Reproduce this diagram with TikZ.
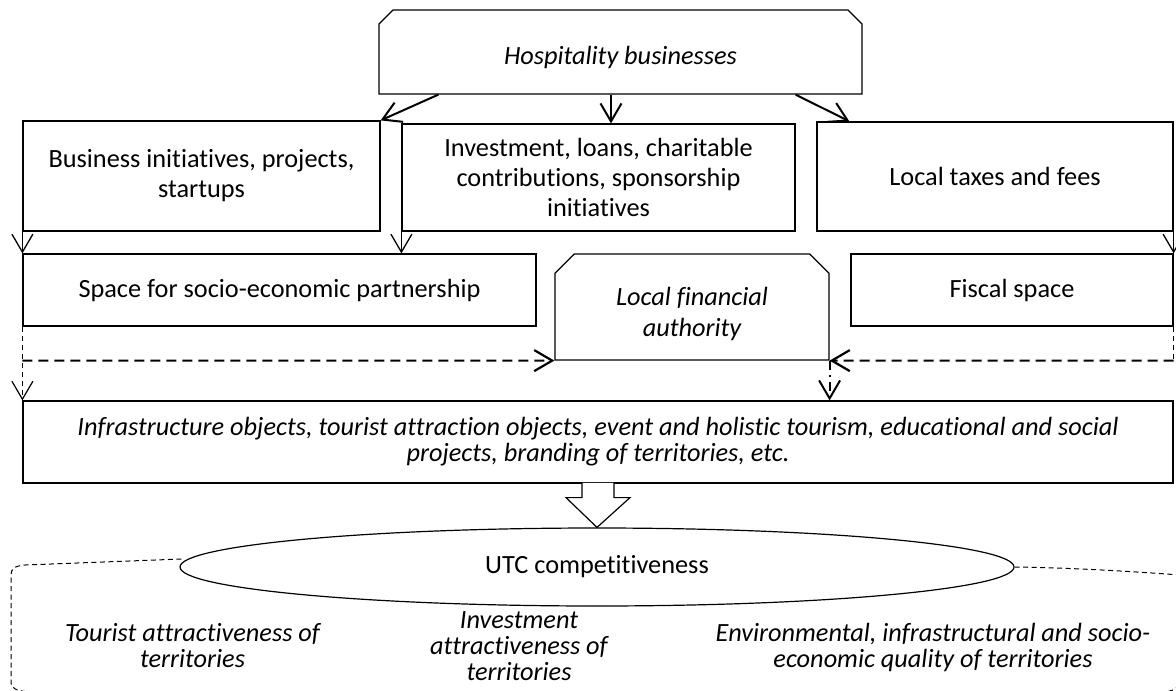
\documentclass[tikz,border=0pt]{standalone}
\usepackage{fontspec}
\setmainfont{Carlito}[Ligatures=CommonOff]
\usetikzlibrary{arrows.meta,calc,shapes.geometric,shapes.misc}

\begin{document}
\begin{tikzpicture}[x=1pt,y=-1pt,
    every node/.style={font=\fontsize{26.3}{30}\selectfont, align=center, inner sep=0pt},
    box/.style={draw, line width=1.2pt, rectangle},
    cbox/.style={draw, line width=1.2pt, chamfered rectangle,
      chamfered rectangle corners={north west,north east}},
    barb/.style={-{Straight Barb[length=18pt,width=21pt]}},
    flow/.style={barb, line width=2pt},
    drop/.style={barb, line width=1.3pt},
    link/.style={barb, line width=2.2pt, dash pattern=on 10pt off 6pt},
    feed/.style={barb, line width=1.2pt, dash pattern=on 5pt off 4pt},
    rim/.style={line width=1pt, dash pattern=on 5pt off 3.5pt},
    note/.style={font=\fontsize{26.3}{26}\selectfont\itshape}]
  \useasboundingbox (0,0) rectangle (1176,691);

  % top level
  \node[cbox, minimum width=483, minimum height=84, chamfered rectangle xsep=7,
    chamfered rectangle ysep=7, text height=30pt] (hosp) at (620.5,52) {\itshape Hospitality businesses};

  % second row
  \node[box, minimum width=357, minimum height=110] (biz) at (201.5,176) {Business initiatives, projects,\\startups};
  \node[box, minimum width=393, minimum height=107] (invest) at (598.5,177.5) {Investment, loans, charitable\\contributions, sponsorship\\initiatives};
  \node[box, minimum width=356, minimum height=109] (taxes) at (995,176.5) {Local taxes and fees};

  % third row
  \node[box, minimum width=513, minimum height=72] (space) at (279.5,290) {Space for socio-economic partnership};
  \node[cbox, minimum width=274, minimum height=106, chamfered rectangle xsep=10,
    chamfered rectangle ysep=10] (lfa) at (692,307) {\phantom{Local financial}};
  \node[font=\fontsize{26.3}{31}\selectfont\itshape] (lfatext) at ($(lfa.center)+(0,7)$) {Local financial\\authority};
  \node[box, minimum width=322, minimum height=72] (fiscal) at (1012,290) {Fiscal space};

  \node[box, minimum width=1150, minimum height=82, font=\fontsize{26.3}{26}\selectfont\itshape] (infra) at (598,442)
    {Infrastructure objects, tourist attraction objects, event and holistic tourism, educational and social\\projects, branding of territories, etc.};

  \node[draw, line width=1.2pt, ellipse, fill=white, minimum width=834, minimum height=78] (utc) at (597,567) {UTC competitiveness};

  % dashed outline round the lower part
  \coordinate (rimL) at (11,575);
  \coordinate (rimR) at (1180,575);
  \draw[rim] (utc.west) ++(2,-8) -- (25,565) .. controls (14,566) and (11,569) .. (rimL)
    -- (11,683) .. controls (11,688) and (16,691) .. (30,692) -- (1160,692) .. controls (1170,692) and (1175,690) .. (1178,686);
  \draw[rim] (utc.east) .. controls (1080,568) and (1140,572) .. (rimR);

  \node[note] (tour) at (192.5,646) {Tourist attractiveness of\\territories};
  \node[note] (inv) at (519,646) {Investment\\attractiveness of\\territories};
  \node[note] (env) at (933,647.5) {Environmental, infrastructural and socio-\\economic quality of territories};

  % arrows from the top box
  \draw[flow] ($(hosp.south west)+(60,0)$) -- (biz.north east);
  \draw[flow] ($(hosp.south)+(-9.5,0)$) -- ($(invest.north)+(12.5,0)$);
  \draw[flow] ($(hosp.south east)+(-67,0)$) -- ($(taxes.north west)+(33,0)$);

  % arrows down to the third row
  \draw[drop] (biz.south west) -- (space.north west);
  \draw[drop] (invest.south west) -- (invest.south west |- space.north);
  \draw[drop] (taxes.south east) -- (fiscal.north east);

  % dashed links to the local authority
  \coordinate (lj) at (space.south west |- lfa.south);
  \coordinate (rj) at (fiscal.south east |- lfa.south);
  \draw[feed] (space.south west) -- (infra.north west);
  \draw[line width=1.2pt, dash pattern=on 5pt off 4pt] (fiscal.south east) -- (rj);
  \draw[link] (lj) -- (lfa.south west);
  \draw[link] (rj) -- (lfa.south east);
  \draw[barb, line width=2pt, dash pattern=on 9pt off 5pt on 2pt off 5pt] (lfa.south east) -- (lfa.south east |- infra.north);

  % block arrow to the ellipse
  \draw[line width=1.2pt, fill=white] ($(infra.south)+(-16,-0.8)$) -- ++(0,14.8) -- ++(-16,0) -- (utc.north)
    -- ($(infra.south)+(32,14)$) -- ++(-16,0) -- ($(infra.south)+(16,-0.8)$);
\end{tikzpicture}
\end{document}
